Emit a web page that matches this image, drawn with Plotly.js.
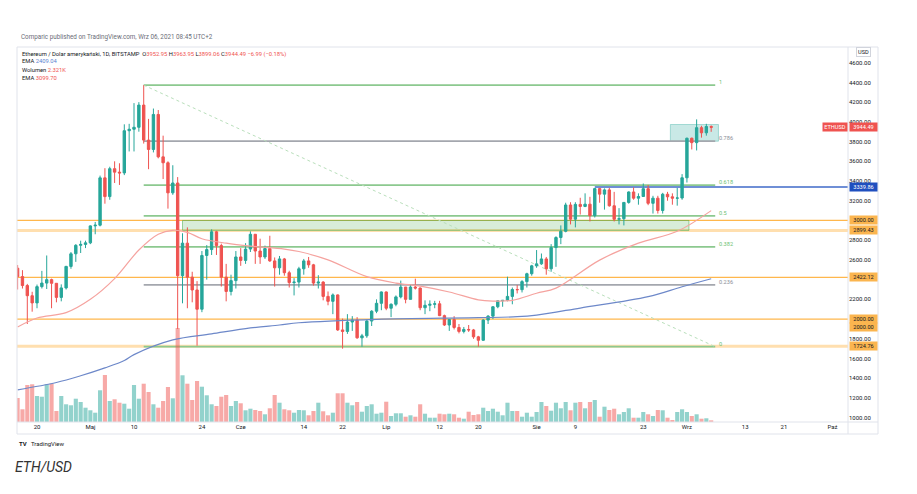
<!DOCTYPE html>
<html>
<head>
<meta charset="utf-8">
<script src="https://cdn.plot.ly/plotly-3.0.1.min.js"></script>
<style>
  html, body { margin: 0; padding: 0; background: #fff; }
  #chart { width: 917px; height: 494px; }
</style>
</head>
<body>
<div id="chart"></div>
<script>
// ETH/USD 1D, BITSTAMP, 16 Apr - 6 Sep 2021
var firstDay = Date.UTC(2021, 3, 16);

var open = [
  2516,2431,2340,2237,2164,2329,2365,2400,2363,2220,2316,2534,2662,2748,2757,
  2773,2945,2952,3432,3242,3525,3490,3482,3910,3925,3945,4170,3815,3720,4075,3645,3585,3280,3380,2440,2770,2425,2295,2100,2645,2705,2885,2745,2425,2280,2390,
  2630,2595,2710,2860,2690,2630,2715,2590,2520,2610,2470,2370,2375,2510,2590,2550,2365,2375,2230,2180,2245,1890,1875,1970,1990,1810,1830,1980,2080,2160,
  2275,2110,2150,2225,2325,2200,2325,2315,2115,2140,2150,2155,2035,1940,1995,1915,1875,1895,1890,1820,1785,1990,2030,2125,2185,2190,2230,2300,2298,2380,2460,
  2540,2560,2610,2510,2725,2827,2890,3157,3013,3163,3142,3165,3049,3323,3267,3310,3149,3012,3018,3183,3289,3226,3243,3322,3174,3226,3101,3266,3240,3226,3228,
  3433,3834,3789,3941,3889,3952.95
];
var high = [
  2548,2496,2357,2277,2350,2489,2645,2410,2365,2352,2540,2680,2760,2795,2795,
  2950,2985,3455,3530,3545,3600,3580,3975,3980,4190,4200,4372,4030,4135,4120,3860,3600,3560,3440,2870,2930,2480,2385,2690,2750,2910,2895,2765,2560,2450,2690,
  2720,2770,2890,2860,2815,2745,2845,2625,2640,2620,2490,2415,2530,2610,2630,2560,2445,2385,2280,2260,2250,2005,2050,2030,2020,1850,1995,2090,2200,2280,
  2280,2160,2240,2390,2325,2350,2410,2320,2190,2190,2185,2185,2045,2000,2030,1950,1920,1940,1900,1830,2000,2040,2130,2190,2190,2430,2320,2345,2395,2470,2550,
  2700,2665,2630,2760,2840,2950,3180,3185,3185,3230,3275,3240,3330,3330,3325,3330,3290,3125,3185,3295,3335,3275,3375,3360,3250,3250,3280,3290,3275,3330,3470,
  3840,3840,4025,3960,3980,3963.95
];
var low = [
  2300,2310,1950,2075,2110,2310,2305,2110,2170,2180,2300,2510,2580,2670,2720,
  2760,2860,2940,3170,3210,3380,3360,3460,3700,3700,3900,3780,3520,3690,3630,3420,3120,3260,1900,2160,2110,2170,1730,2070,2400,2650,2650,2330,2180,2240,2310,
  2540,2560,2680,2560,2560,2610,2580,2330,2450,2440,2320,2240,2320,2450,2520,2340,2310,2190,2140,2050,1880,1700,1850,1880,1800,1720,1810,1930,2060,2090,
  2090,2020,2130,2210,2160,2200,2300,2090,2050,2080,2110,2030,1930,1880,1895,1855,1855,1870,1800,1720,1780,1950,2000,2110,2125,2180,2150,2260,2270,2320,2440,
  2520,2550,2450,2480,2530,2760,2880,2960,2930,3060,3135,2990,3030,3180,3110,3140,2990,2960,2950,3170,3210,3160,3240,3155,3070,3070,3070,3200,3160,3150,3210,
  3385,3720,3710,3840,3860,3899.06
];
var close = [
  2431,2340,2237,2164,2329,2365,2400,2363,2220,2316,2534,2662,2748,2757,2773,
  2945,2952,3432,3242,3525,3490,3482,3910,3925,3945,4170,3815,3720,4075,3645,3585,3280,3380,2440,2770,2425,2295,2100,2645,2705,2885,2745,2425,2280,2390,2630,
  2595,2710,2860,2690,2630,2715,2590,2520,2610,2470,2370,2375,2510,2590,2550,2365,2375,2230,2180,2245,1890,1875,1970,1990,1810,1830,1980,2080,2160,2275,
  2110,2150,2225,2325,2200,2325,2315,2115,2140,2150,2155,2035,1940,1995,1915,1875,1895,1890,1820,1785,1990,2030,2125,2185,2190,2230,2300,2298,2380,2460,2540,
  2560,2610,2510,2725,2827,2890,3157,3013,3163,3142,3165,3049,3323,3267,3310,3149,3012,3018,3183,3289,3226,3243,3322,3174,3226,3101,3266,3240,3226,3228,3433,
  3834,3789,3941,3889,3952.95,3944.49
];
// volume in thousands of ETH
var volume = [
  33.6,17.8,51.8,52.8,36.4,35.4,52.8,53.6,15.4,36.4,24.8,23.4,32.6,28,20,
  16.4,13,44.4,65.8,29.4,31.8,27,25.6,18.6,51.8,32.6,53.6,42,24.8,20,29.4,49,33.2,131.6,65.4,53.6,30.8,57.4,49.4,37.4,24.8,22.4,35.4,37.8,22.4,29.4,
  26.2,16.4,18.6,16.8,15.4,10.8,19.2,37.8,27,17.8,16.4,13,16.8,16.4,9.4,15.4,27,15,9.4,13,40.2,40.2,27,23.4,28,14.4,22.4,24.8,11.6,13,
  28.4,8.4,12.2,12.2,7.4,9.4,7.4,24.8,11.6,6,6,11.6,10.8,11.6,10.8,6,4.6,14.4,9.8,10.8,20,15.4,18.6,14.4,9.4,27,15.4,15.4,7.4,13,7.4,
  14,28,22.4,15.8,27,19.2,28,16.4,27,28,19.2,28,30.8,7.4,21.4,16.8,18.6,10.8,14,19.2,6,6,14,10.8,8.4,16.8,16.4,6,2.8,14,17.8,
  14,8.4,10.8,4.6,5.2,2.321
];

// EMA lines
var emaRedDates = ['2021-04-16','2021-04-20','2021-04-26','2021-05-01','2021-05-06','2021-05-11','2021-05-15','2021-05-18','2021-05-21','2021-05-24','2021-05-29','2021-06-03','2021-06-10','2021-06-13','2021-06-19','2021-06-27','2021-07-03','2021-07-08','2021-07-14','2021-07-20','2021-07-23','2021-07-27','2021-08-01','2021-08-05','2021-08-14','2021-08-22','2021-08-30','2021-09-06'];
var emaRed = [1920,2011,2065,2200,2410,2700,2860,2900,2880,2815,2770,2740,2710,2685,2600,2430,2365,2335,2275,2195,2183,2190,2262,2314,2598,2770,2890,3099.70];
var emaBlueDates = ['2021-04-16','2021-04-24','2021-04-29','2021-05-04','2021-05-08','2021-05-10','2021-05-18','2021-05-26','2021-06-03','2021-06-09','2021-06-13','2021-06-29','2021-07-20','2021-07-28','2021-08-01','2021-08-10','2021-08-24','2021-08-31','2021-09-06'];
var emaBlue = [1283,1357,1425,1505,1580,1640,1789,1850,1910,1940,1963,1998,2014,2024,2041,2112,2227,2328,2409.04];

// fibonacci retracement
var fibHigh = 4372, fibLow = 1720;
var fibStart = '2021-05-12', fibEnd = '2021-09-06 20:00';
var fibLevels = [1, 0.786, 0.618, 0.5, 0.382, 0.236, 0];
var fibLabels = ['1', '0.786', '0.618', '0.5', '0.382', '0.236', '0'];
var fibColors = ['#8cc98f', '#a4a7ae', '#8cc98f', '#8cc98f', '#8cc98f', '#a4a7ae', '#8cc98f'];

// horizontal levels
var orangeLevels = [3000, 2899.43, 2422.12, 2000, 1724.76];
var orangeWide = [false, true, false, false, true];
var blueLevel = 3339.86, blueStart = '2021-08-13';
var zoneGreen = {x0: '2021-05-20', x1: '2021-09-01 10:00', y0: 2899.43, y1: 3000};
var zoneTeal = {x0: '2021-08-28 14:00', x1: '2021-09-07 12:00', y0: 3804, y1: 3973};

var tickDates = ['2021-04-20','2021-05-01','2021-05-10','2021-05-24','2021-06-01','2021-06-14','2021-06-22','2021-07-01','2021-07-12','2021-07-20','2021-08-01','2021-08-09','2021-08-23','2021-09-01','2021-09-13','2021-09-21','2021-10-01'];
var tickNames = ['20','Maj','10','24','Cze','14','22','Lip','12','20','Sie','9','23','Wrz','13','21','Paź'];
// price scale labels (the ones hidden under level tags are left out)
var priceTicks = [1000,1200,1400,1600,1800,2200,2600,2800,3200,3400,3600,3800,4000,4200,4400,4600];

var dates = close.map(function(c, i) {
  return new Date(firstDay + i * 86400000).toISOString().slice(0, 10);
});

var UP = '#26a69a', DOWN = '#ef5350';
var volColors = close.map(function(c, i) {
  return c >= open[i] ? 'rgba(38,166,154,0.5)' : 'rgba(239,83,80,0.5)';
});

// pixel -> paper helpers (plot area 17..848 x 47..422)
function px(x) { return (x - 17) / 831; }
function py(y) { return (422 - y) / 375; }

var FONT = 'Roboto, "DejaVu Sans", sans-serif';

var data = [
  {
    type: 'bar', x: dates, y: volume, yaxis: 'y',
    marker: {color: volColors, line: {width: 0}},
    hoverinfo: 'skip'
  },
  {
    type: 'scatter', mode: 'lines', x: emaBlueDates, y: emaBlue, yaxis: 'y2',
    line: {color: '#6d88c9', width: 1.2, shape: 'spline'}
  },
  {
    type: 'scatter', mode: 'lines', x: emaRedDates, y: emaRed, yaxis: 'y2',
    line: {color: '#f5a39f', width: 1.2, shape: 'spline'}
  },
  {
    type: 'candlestick', x: dates, open: open, high: high, low: low, close: close, yaxis: 'y2',
    increasing: {line: {color: UP, width: 1}, fillcolor: UP},
    decreasing: {line: {color: DOWN, width: 1}, fillcolor: DOWN},
    whiskerwidth: 0
  }
];

var shapes = [];
// frame
shapes.push({type: 'rect', xref: 'paper', yref: 'paper', x0: 0, x1: px(878), y0: py(434), y1: 1,
  line: {color: '#e0e3eb', width: 1}});
shapes.push({type: 'line', xref: 'paper', yref: 'paper', x0: 1, x1: 1, y0: py(434), y1: 1,
  line: {color: '#e0e3eb', width: 1}});
shapes.push({type: 'line', xref: 'paper', yref: 'paper', x0: 0, x1: px(878), y0: 0, y1: 0,
  line: {color: '#e0e3eb', width: 1}});

// zones
shapes.push({type: 'rect', xref: 'x', yref: 'y2', x0: zoneGreen.x0, x1: zoneGreen.x1, y0: zoneGreen.y0, y1: zoneGreen.y1,
  fillcolor: 'rgba(76,175,80,0.22)', line: {color: 'rgba(76,175,80,0.55)', width: 1}, layer: 'below'});
shapes.push({type: 'rect', xref: 'x', yref: 'y2', x0: zoneTeal.x0, x1: zoneTeal.x1, y0: zoneTeal.y0, y1: zoneTeal.y1,
  fillcolor: 'rgba(38,166,154,0.25)', line: {color: 'rgba(38,166,154,0.35)', width: 1}, layer: 'below'});

// orange levels
orangeLevels.forEach(function(v, i) {
  shapes.push({type: 'line', xref: 'paper', yref: 'y2', x0: 0, x1: 1, y0: v, y1: v,
    line: {color: orangeWide[i] ? 'rgba(255,183,77,0.45)' : '#ffb74d', width: orangeWide[i] ? 3 : 1.2},
    layer: 'below'});
});

// fib levels
fibLevels.forEach(function(f, i) {
  var v = fibLow + f * (fibHigh - fibLow);
  shapes.push({type: 'line', xref: 'x', yref: 'y2', x0: fibStart, x1: fibEnd, y0: v, y1: v,
    line: {color: fibColors[i], width: 1.8}, layer: 'below'});
});
shapes.push({type: 'line', xref: 'x', yref: 'y2', x0: fibStart, x1: fibEnd, y0: fibHigh, y1: fibLow,
  line: {color: '#b9dfbb', width: 1, dash: '3px,3px'}, layer: 'below'});

// blue level
shapes.push({type: 'line', xref: 'x', yref: 'y2', x0: blueStart, x1: '2021-10-06', y0: blueLevel, y1: blueLevel,
  line: {color: '#6f8fd6', width: 2}, layer: 'below'});

var ann = [];
function note(x, y, text, size, color, extra) {
  var a = {xref: 'paper', yref: 'paper', x: px(x), y: py(y), text: text, showarrow: false,
    xanchor: 'left', yanchor: 'middle', font: {family: FONT, size: size, color: color}};
  for (var k in extra) a[k] = extra[k];
  ann.push(a);
}
function red(t) { return '<span style="color:#ef5350">' + t + '</span>'; }

note(19, 37, 'Comparic published on TradingView.com, Wrz 06, 2021 08:45 UTC+2', 6.3, '#6a6d78');
note(20, 54, 'Ethereum / Dolar amerykański, 1D, BITSTAMP  O' + red('3952.95') + ' H' + red('3963.95') +
  ' L' + red('3899.06') + ' C' + red('3944.49') + ' ' + red('−6.99 (−0.18%)'), 5.8, '#131722');
note(20, 61.5, 'EMA <span style="color:#5b7fd0">2409.04</span>', 5.8, '#131722');
note(20, 69.5, 'Wolumen ' + red('2.321K'), 5.8, '#131722');
note(20, 77.5, 'EMA ' + red('3099.70'), 5.8, '#131722');
note(17, 443, '<b>TV</b>', 6, '#131722');
note(29, 443, 'TradingView', 6, '#131722');
note(13, 467, '<i>ETH/USD</i>', 14, '#333333');
note(856, 52, 'USD', 5.6, '#131722', {bordercolor: '#d1d4dc', borderwidth: 1, bgcolor: '#fff', borderpad: 1});

// fib labels
fibLevels.forEach(function(f, i) {
  ann.push({xref: 'x', yref: 'y2', x: fibEnd, y: fibLow + f * (fibHigh - fibLow), text: fibLabels[i],
    showarrow: false, xanchor: 'left', yanchor: 'middle', xshift: 2, yshift: 3,
    font: {family: FONT, size: 5.6, color: fibColors[i] === '#a4a7ae' ? '#8a8d96' : '#6fbf73'}});
});

// price tags on the axis
function tag(v, bg, fg, shift) {
  ann.push({xref: 'paper', yref: 'y2', x: px(849), y: v, text: v.toFixed(2), showarrow: false,
    xanchor: 'left', yanchor: 'middle', yshift: shift || 0, width: 27, height: 8, borderpad: 0,
    bgcolor: bg, font: {family: FONT, size: 5.6, color: fg}});
}
orangeLevels.forEach(function(v) { tag(v, '#fbb54f', '#131722'); });
tag(2000, '#fbb54f', '#131722', -8);
tag(blueLevel, '#1f4fbf', '#ffffff');
tag(close[close.length - 1], DOWN, '#ffffff');
ann.push({xref: 'paper', yref: 'y2', x: px(822), y: close[close.length - 1], text: 'ETHUSD', showarrow: false,
  xanchor: 'left', yanchor: 'middle', width: 24, height: 8, borderpad: 0, bgcolor: DOWN,
  font: {family: FONT, size: 5.6, color: '#ffffff'}});

var layout = {
  width: 917, height: 494,
  margin: {l: 17, r: 69, t: 47, b: 72},
  paper_bgcolor: '#ffffff', plot_bgcolor: '#ffffff',
  showlegend: false,
  bargap: 0.15,
  boxgap: 0.3,
  xaxis: {
    type: 'date', range: ['2021-04-15 21:00', '2021-10-04 05:00'],
    tickvals: tickDates, ticktext: tickNames, ticks: '',
    showgrid: false, zeroline: false, showline: false,
    tickfont: {family: FONT, size: 6, color: '#131722'},
    rangeslider: {visible: false}, fixedrange: true
  },
  yaxis: {range: [0, 525], visible: false, showgrid: false, zeroline: false, fixedrange: true},
  yaxis2: {
    overlaying: 'y', side: 'right', range: [956.4, 4759],
    tickvals: priceTicks, tickformat: '.2f', ticks: '',
    showgrid: false, zeroline: false, showline: false,
    tickfont: {family: FONT, size: 6, color: '#131722'},
    fixedrange: true
  },
  shapes: shapes,
  annotations: ann
};

Plotly.newPlot('chart', data, layout, {displayModeBar: false, staticPlot: true});
</script>
</body>
</html>
